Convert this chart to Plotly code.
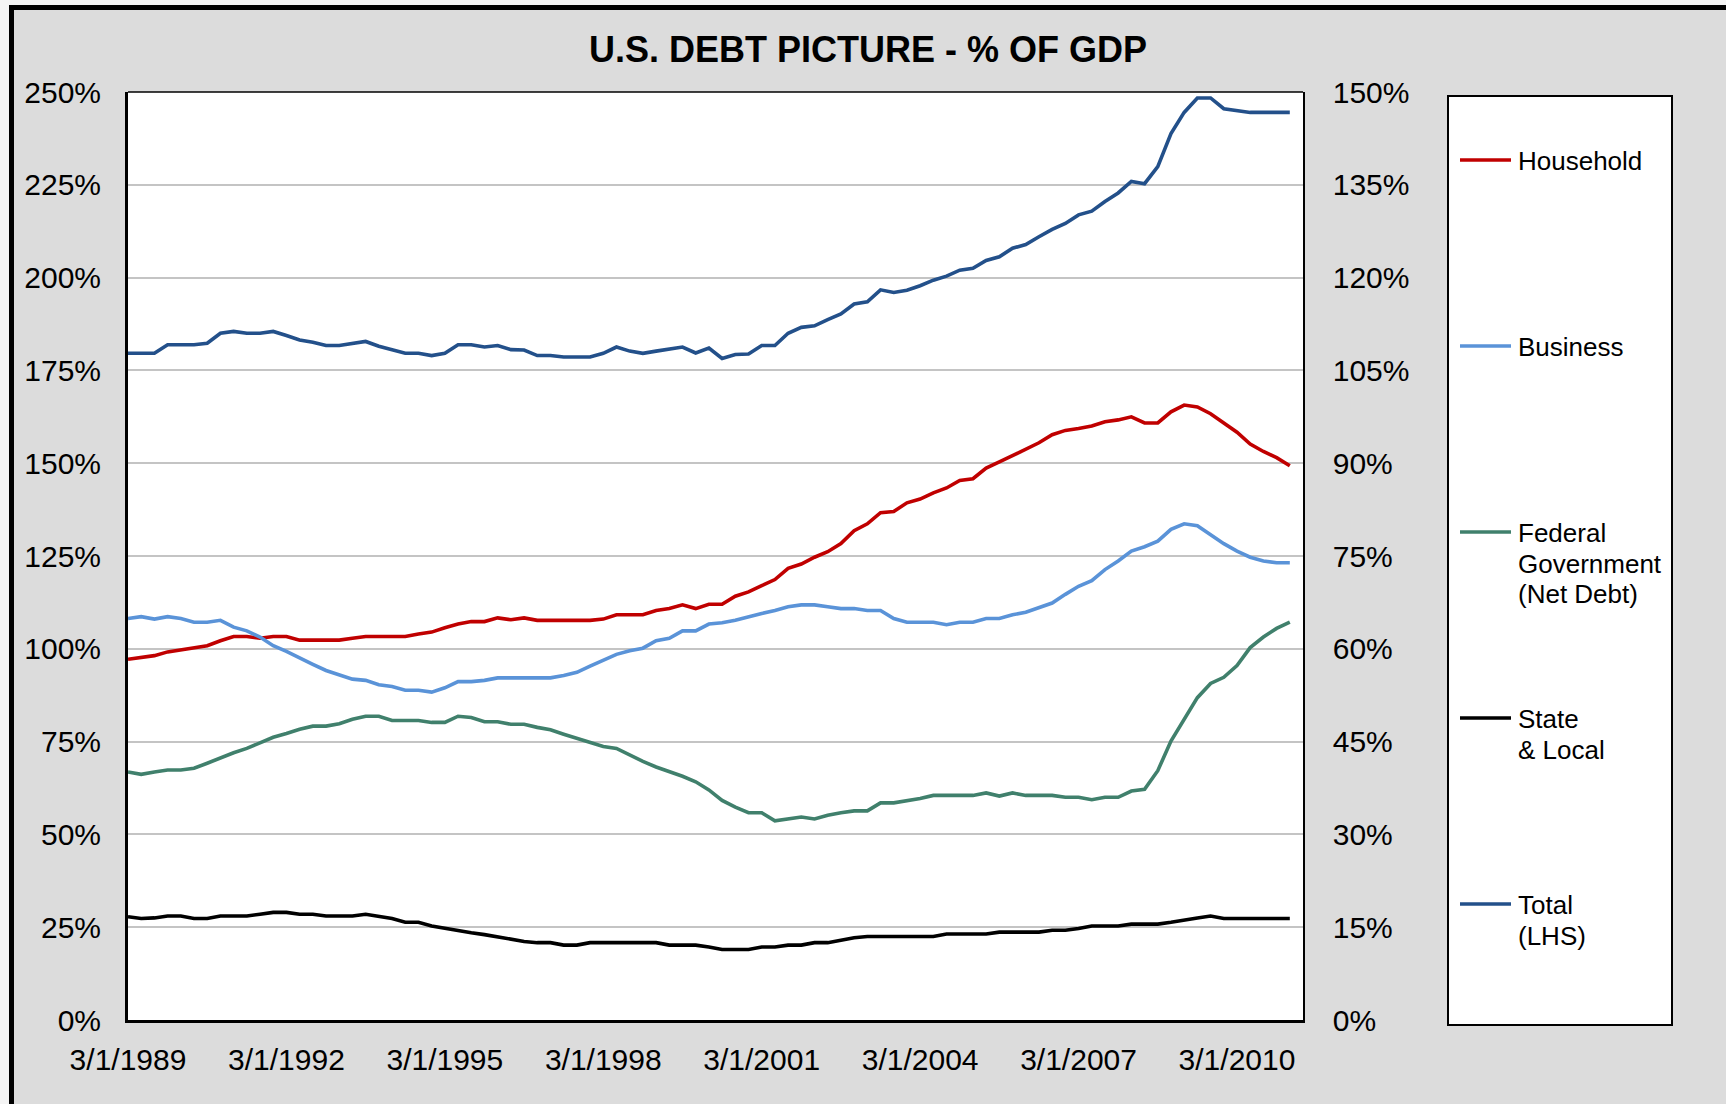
import pandas as pd
import plotly.graph_objects as go

# Quarterly observations, 3/1/1989 through 3/1/2011
quarters = pd.date_range("1989-03-01", "2011-03-01", freq="3MS")
quarter_labels = [f"{d.month}/{d.day}/{d.year}" for d in quarters]

# Debt as % of GDP (sector series read on the right-hand axis)
household = [
    58.3, 58.6, 58.9, 59.5, 59.8, 60.2, 60.5, 61.3, 62.0, 62.0,
    61.7, 62.0, 62.0, 61.4, 61.4, 61.4, 61.4, 61.7, 62.0, 62.0,
    62.0, 62.0, 62.4, 62.7, 63.4, 64.0, 64.4, 64.4, 65.0, 64.7,
    65.0, 64.6, 64.6, 64.6, 64.6, 64.6, 64.8, 65.5, 65.5, 65.5,
    66.2, 66.5, 67.1, 66.5, 67.2, 67.2, 68.5, 69.2, 70.2, 71.2,
    73.0, 73.7, 74.8, 75.7, 77.0, 79.1, 80.2, 82.0, 82.2, 83.6,
    84.2, 85.2, 86.0, 87.2, 87.5, 89.2, 90.2, 91.2, 92.2, 93.3,
    94.6, 95.3, 95.6, 96.0, 96.7, 97.0, 97.5, 96.5, 96.5, 98.3,
    99.4, 99.1, 98.0, 96.5, 95.0, 93.1, 91.9, 90.9, 89.6,
]
business = [
    64.9, 65.2, 64.8, 65.2, 64.9, 64.3, 64.3, 64.6, 63.5, 62.9,
    61.9, 60.5, 59.6, 58.5, 57.5, 56.5, 55.8, 55.1, 54.9, 54.2,
    53.9, 53.3, 53.3, 53.0, 53.7, 54.7, 54.7, 54.9, 55.3, 55.3,
    55.3, 55.3, 55.3, 55.7, 56.2, 57.2, 58.1, 59.1, 59.7, 60.1,
    61.3, 61.7, 62.9, 62.9, 64.0, 64.2, 64.6, 65.2, 65.7, 66.2,
    66.8, 67.1, 67.1, 66.8, 66.5, 66.5, 66.2, 66.2, 64.9, 64.3,
    64.3, 64.3, 63.9, 64.3, 64.3, 64.9, 64.9, 65.5, 65.9, 66.7,
    67.4, 68.8, 70.1, 71.0, 72.8, 74.2, 75.8, 76.5, 77.4, 79.3,
    80.2, 79.9, 78.5, 77.0, 75.8, 74.8, 74.2, 73.9, 73.9,
]
federal = [
    40.1, 39.7, 40.1, 40.4, 40.4, 40.7, 41.5, 42.4, 43.2, 43.9,
    44.8, 45.7, 46.3, 47.0, 47.5, 47.5, 47.9, 48.6, 49.1, 49.1,
    48.4, 48.4, 48.4, 48.1, 48.1, 49.1, 48.9, 48.2, 48.2, 47.8,
    47.8, 47.3, 46.9, 46.2, 45.5, 44.8, 44.2, 43.9, 42.8, 41.8,
    40.9, 40.2, 39.4, 38.5, 37.2, 35.5, 34.4, 33.5, 33.5, 32.2,
    32.5, 32.8, 32.5, 33.1, 33.5, 33.8, 33.8, 35.1, 35.1, 35.4,
    35.8, 36.3, 36.3, 36.3, 36.3, 36.7, 36.2, 36.7, 36.3, 36.3,
    36.3, 36.0, 36.0, 35.6, 36.0, 36.0, 37.0, 37.3, 40.3, 45.1,
    48.6, 52.1, 54.4, 55.4, 57.3, 60.2, 61.9, 63.3, 64.3,
]
state_local = [
    16.7, 16.4, 16.5, 16.8, 16.8, 16.4, 16.4, 16.8, 16.8, 16.8,
    17.1, 17.4, 17.4, 17.1, 17.1, 16.8, 16.8, 16.8, 17.1, 16.7,
    16.4, 15.8, 15.8, 15.2, 14.8, 14.5, 14.1, 13.8, 13.4, 13.1,
    12.7, 12.5, 12.5, 12.1, 12.1, 12.5, 12.5, 12.5, 12.5, 12.5,
    12.5, 12.1, 12.1, 12.1, 11.8, 11.4, 11.4, 11.4, 11.8, 11.8,
    12.1, 12.1, 12.5, 12.5, 12.9, 13.3, 13.5, 13.5, 13.5, 13.5,
    13.5, 13.5, 13.9, 13.9, 13.9, 13.9, 14.2, 14.2, 14.2, 14.2,
    14.5, 14.5, 14.8, 15.2, 15.2, 15.2, 15.5, 15.5, 15.5, 15.8,
    16.2, 16.5, 16.8, 16.4, 16.4, 16.4, 16.4, 16.4, 16.4,
]
# Total debt, read on the left-hand axis
total = [
    179.6, 179.6, 179.6, 181.9, 181.9, 181.9, 182.3, 185.0, 185.5, 185.0,
    185.0, 185.5, 184.4, 183.2, 182.6, 181.7, 181.7, 182.3, 182.8, 181.5,
    180.5, 179.6, 179.6, 179.0, 179.6, 181.9, 181.9, 181.3, 181.7, 180.6,
    180.5, 179.0, 179.0, 178.6, 178.6, 178.6, 179.6, 181.3, 180.2, 179.6,
    180.2, 180.8, 181.3, 179.7, 181.0, 178.2, 179.3, 179.4, 181.7, 181.7,
    185.0, 186.6, 187.0, 188.7, 190.2, 192.9, 193.5, 196.7, 196.0, 196.6,
    197.8, 199.3, 200.4, 202.0, 202.5, 204.6, 205.6, 207.9, 208.9, 211.0,
    213.0, 214.6, 216.9, 217.9, 220.5, 222.8, 225.9, 225.3, 229.9, 238.8,
    244.5, 248.4, 248.4, 245.5, 245.1, 244.5, 244.5, 244.5, 244.5,
]

series_names = ["Household", "Business", "Federal Government (Net Debt)",
                "State & Local", "Total (LHS)"]
legend_lines = [["Household"], ["Business"],
                ["Federal", "Government", "(Net Debt)"],
                ["State", "& Local"], ["Total", "(LHS)"]]
series_colors = ["#C00000", "#5A93D8", "#40806C", "#000000", "#23508A"]
series_values = [household, business, federal, state_local, total]
series_axes = ["y2", "y2", "y2", "y2", "y"]

left_ticks = list(range(0, 251, 25))
right_ticks = list(range(0, 151, 15))

W, H = 1726, 1104
L, R, T, B = 128, 423, 92, 84
PW, PH = W - L - R, H - T - B
FONT = "Arial, 'Liberation Sans', Helvetica, sans-serif"


def px(x):
    return (x - L) / PW


def py(y):
    return (H - B - y) / PH


fig = go.Figure()
for name, vals, col, ax in zip(series_names, series_values, series_colors, series_axes):
    fig.add_trace(go.Scatter(
        x=quarter_labels, y=vals, name=name, mode="lines", yaxis=ax,
        line=dict(color=col, width=3.6), hovertemplate="%{x}: %{y:.1f}%<extra>" + name + "</extra>",
    ))

fig.update_layout(
    width=W, height=H,
    margin=dict(l=L, r=R, t=T, b=B, pad=0),
    paper_bgcolor="#DCDCDC", plot_bgcolor="white",
    showlegend=False,
    font=dict(family=FONT, color="black", size=30),
    xaxis=dict(
        type="category", range=[0, 89], tickmode="array",
        tickvals=quarter_labels[::12], ticks="", showgrid=False,
        showline=True, linecolor="black", linewidth=3, zeroline=False,
        tickfont=dict(size=30, family=FONT), ticklabelstandoff=11,
    ),
    yaxis=dict(
        range=[0, 250], tickmode="array", tickvals=left_ticks,
        ticktext=[f"{v}%" for v in left_ticks], ticks="",
        showgrid=True, gridcolor="#C4C4C4", gridwidth=2, zeroline=False,
        showline=True, linecolor="black", linewidth=3,
        tickfont=dict(size=30, family=FONT), ticklabelstandoff=18,
    ),
    yaxis2=dict(
        range=[0, 150], overlaying="y", side="right", tickmode="array",
        tickvals=right_ticks, ticktext=[f"{v}%" for v in right_ticks],
        ticks="", showgrid=False, zeroline=False,
        showline=True, linecolor="black", linewidth=1.5,
        tickfont=dict(size=30, family=FONT), ticklabelstandoff=22,
    ),
)

shapes = []
# outer frame: light margin strip, then a heavy black border on the left and top
shapes.append(dict(type="rect", xref="paper", yref="paper", x0=px(0), x1=px(9),
                   y0=py(H), y1=py(0), fillcolor="#F4F4F4", line=dict(width=0), layer="below"))
shapes.append(dict(type="rect", xref="paper", yref="paper", x0=px(0), x1=px(W),
                   y0=py(5), y1=py(0), fillcolor="#F4F4F4", line=dict(width=0), layer="below"))
shapes.append(dict(type="rect", xref="paper", yref="paper", x0=px(9), x1=px(14),
                   y0=py(H), y1=py(5), fillcolor="black", line=dict(width=0)))
shapes.append(dict(type="rect", xref="paper", yref="paper", x0=px(9), x1=px(W),
                   y0=py(10), y1=py(5), fillcolor="black", line=dict(width=0)))
# top edge of the plot area
shapes.append(dict(type="line", xref="paper", yref="paper", x0=0, x1=1, y0=1, y1=1,
                   line=dict(color="black", width=1.5)))

# legend panel
LX0, LX1, LY0, LY1 = 1448, 1672, 96, 1025
shapes.append(dict(type="rect", xref="paper", yref="paper", x0=px(LX0), x1=px(LX1),
                   y0=py(LY1), y1=py(LY0), fillcolor="white", line=dict(color="black", width=2)))
legend_y = [160, 346, 532, 718, 904]
annotations = []
for lines, col, ly in zip(legend_lines, series_colors, legend_y):
    shapes.append(dict(type="line", xref="paper", yref="paper", x0=px(1460), x1=px(1511),
                       y0=py(ly), y1=py(ly), line=dict(color=col, width=3.6)))
    for k, txt in enumerate(lines):
        annotations.append(dict(
            text=txt, xref="paper", yref="paper", x=px(1516), y=py(ly + 1 + 30.5 * k),
            xanchor="left", yanchor="middle", showarrow=False,
            font=dict(size=26, family=FONT, color="black"),
        ))

annotations.append(dict(
    text="<b>U.S. DEBT PICTURE - % OF GDP</b>", xref="paper", yref="paper",
    x=px(868), y=py(50), xanchor="center", yanchor="middle", showarrow=False,
    font=dict(size=36, family=FONT, color="black"),
))

fig.update_layout(shapes=shapes, annotations=annotations)
fig.write_html("out.html")
